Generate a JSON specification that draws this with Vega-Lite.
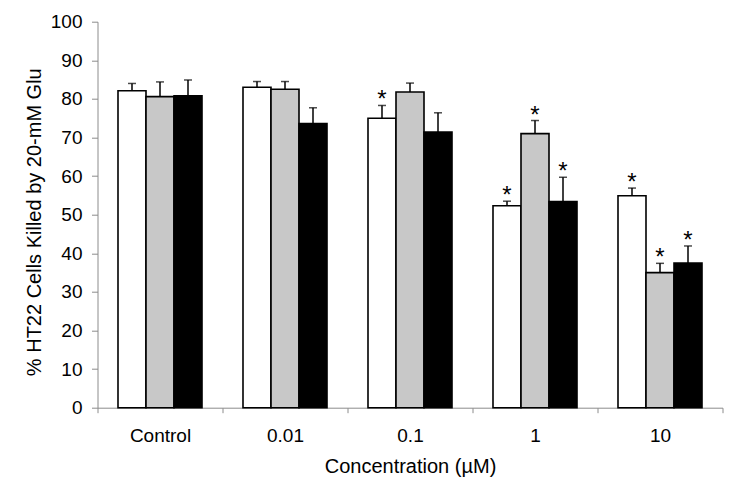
{
  "$schema": "https://vega.github.io/schema/vega-lite/v6.json",
  "width": 625,
  "height": 386,
  "autosize": "none",
  "padding": {"left": 97.5, "top": 21.7, "right": 27.5, "bottom": 80.3},
  "background": "white",
  "config": {
    "view": {"stroke": null},
    "font": "Liberation Sans",
    "axis": {
      "grid": false,
      "domainColor": "#8c8c8c",
      "domainWidth": 1,
      "tickColor": "#8c8c8c",
      "tickWidth": 1,
      "labelColor": "black",
      "labelFont": "Liberation Sans",
      "labelFontSize": 19,
      "titleFont": "Liberation Sans",
      "titleFontSize": 20,
      "titleFontWeight": "normal",
      "titleColor": "black"
    },
    "axisY": {
      "tickSize": 6,
      "labelPadding": 9.5,
      "values": [0, 10, 20, 30, 40, 50, 60, 70, 80, 90, 100],
      "titleX": -57.5,
      "titleY": 200,
      "titleAngle": -90,
      "titleBaseline": "alphabetic",
      "titleAlign": "center"
    },
    "axisX": {
      "tickSize": 5,
      "labelPadding": 14,
      "labelAngle": 0,
      "tickBand": "extent",
      "titleY": 65,
      "titleBaseline": "alphabetic"
    }
  },
  "data": {
    "values": [
      {"conc": "Control", "series": "Series 1", "value": 82.1, "upper": 84.0, "sig": ""},
      {"conc": "Control", "series": "Series 2", "value": 80.6, "upper": 84.4, "sig": ""},
      {"conc": "Control", "series": "Series 3", "value": 80.8, "upper": 84.9, "sig": ""},
      {"conc": "0.01", "series": "Series 1", "value": 83.0, "upper": 84.5, "sig": ""},
      {"conc": "0.01", "series": "Series 2", "value": 82.5, "upper": 84.5, "sig": ""},
      {"conc": "0.01", "series": "Series 3", "value": 73.6, "upper": 77.7, "sig": ""},
      {"conc": "0.1", "series": "Series 1", "value": 75.0, "upper": 78.3, "sig": "*"},
      {"conc": "0.1", "series": "Series 2", "value": 81.8, "upper": 84.1, "sig": ""},
      {"conc": "0.1", "series": "Series 3", "value": 71.4, "upper": 76.4, "sig": ""},
      {"conc": "1", "series": "Series 1", "value": 52.3, "upper": 53.5, "sig": "*"},
      {"conc": "1", "series": "Series 2", "value": 71.0, "upper": 74.4, "sig": "*"},
      {"conc": "1", "series": "Series 3", "value": 53.4, "upper": 59.7, "sig": "*"},
      {"conc": "10", "series": "Series 1", "value": 54.9, "upper": 56.9, "sig": "*"},
      {"conc": "10", "series": "Series 2", "value": 35.0, "upper": 37.4, "sig": "*"},
      {"conc": "10", "series": "Series 3", "value": 37.5, "upper": 41.9, "sig": "*"}
    ]
  },
  "encoding": {
    "x": {
      "field": "conc",
      "type": "nominal",
      "sort": ["Control", "0.01", "0.1", "1", "10"],
      "scale": {"paddingInner": 0, "paddingOuter": 0},
      "title": "Concentration (µM)"
    },
    "xOffset": {
      "field": "series",
      "type": "nominal",
      "scale": {"paddingInner": 0, "paddingOuter": 0.732}
    }
  },
  "layer": [
    {
      "mark": {"type": "bar", "stroke": "black", "strokeWidth": 1.6},
      "encoding": {
        "y": {"field": "value", "type": "quantitative", "scale": {"domain": [0, 100], "nice": false}, "title": "% HT22 Cells Killed by 20-mM Glu"},
        "fill": {
          "field": "series",
          "type": "nominal",
          "scale": {"domain": ["Series 1", "Series 2", "Series 3"], "range": ["#ffffff", "#c8c8c8", "#000000"]},
          "legend": null
        }
      }
    },
    {
      "mark": {"type": "rule", "color": "black", "strokeWidth": 1.5},
      "encoding": {
        "y": {"field": "value", "type": "quantitative", "title": "% HT22 Cells Killed by 20-mM Glu"},
        "y2": {"field": "upper"}
      }
    },
    {
      "mark": {"type": "tick", "color": "black", "thickness": 1.5, "size": 8, "orient": "horizontal"},
      "encoding": {
        "y": {"field": "upper", "type": "quantitative", "title": "% HT22 Cells Killed by 20-mM Glu"}
      }
    },
    {
      "mark": {"type": "text", "color": "black", "fontSize": 24, "align": "center", "baseline": "alphabetic", "dy": 2},
      "encoding": {
        "y": {"field": "upper", "type": "quantitative", "title": "% HT22 Cells Killed by 20-mM Glu"},
        "text": {"field": "sig"}
      }
    }
  ]
}
